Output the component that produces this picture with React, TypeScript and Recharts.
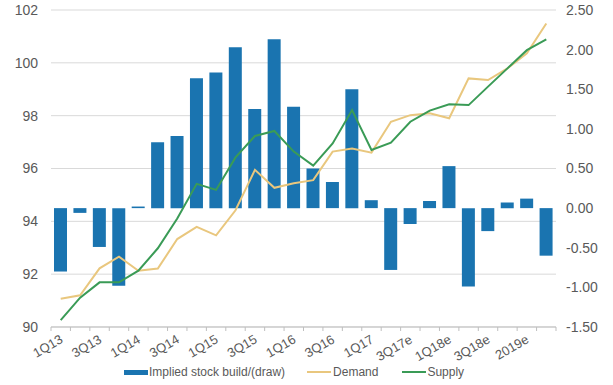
import React from 'react';
import { ComposedChart, Bar, Line, XAxis, YAxis, CartesianGrid, Legend } from 'recharts';

const categories = [
  '1Q13', '2Q13', '3Q13', '4Q13', '1Q14', '2Q14', '3Q14', '4Q14',
  '1Q15', '2Q15', '3Q15', '4Q15', '1Q16', '2Q16', '3Q16', '4Q16',
  '1Q17', '2Q17', '3Q17e', '4Q17e', '1Q18e', '2Q18e', '3Q18e', '4Q18e',
  '2019e', '2020e',
];
const stockBuild = [
  -0.8, -0.06, -0.49, -0.98, 0.02, 0.83, 0.91, 1.64,
  1.71, 2.03, 1.25, 2.13, 1.28, 0.5, 0.33, 1.5,
  0.1, -0.78, -0.2, 0.09, 0.53, -0.99, -0.29, 0.07,
  0.12, -0.6,
];
const demand = [
  91.07, 91.2, 92.22, 92.66, 92.13, 92.21, 93.33, 93.79,
  93.47, 94.42, 95.95, 95.27, 95.44, 95.56, 96.64, 96.76,
  96.6, 97.77, 98.02, 98.09, 97.9, 99.41, 99.35, 99.79,
  100.36, 101.49,
];
const supply = [
  90.26, 91.11, 91.69, 91.69, 92.13, 92.98, 94.11, 95.42,
  95.19, 96.42, 97.23, 97.42, 96.64, 96.11, 96.95, 98.21,
  96.7, 96.98, 97.77, 98.19, 98.43, 98.4, 99.1, 99.79,
  100.48, 100.89,
];
const leftTicks = [90, 92, 94, 96, 98, 100, 102];
const rightTicks = [-1.5, -1, -0.5, 0, 0.5, 1, 1.5, 2, 2.5];

const data = categories.map((c, i) => ({
  cat: c,
  build: stockBuild[i],
  demand: demand[i],
  supply: supply[i],
}));

const BAR_COLOR = '#1A74B0';
const DEMAND_COLOR = '#E9C77E';
const SUPPLY_COLOR = '#3A9B56';
const TEXT = '#595959';
const FONT = '"Liberation Sans", Arial, sans-serif';
const BAND = 505 / 26;

const XTick = (props: any) => {
  const { x, y, index, payload } = props;
  const last = index === categories.length - 1;
  const tx = x + 3;
  const ty = y + 7;
  return (
    <g>
      <line x1={x - BAND / 2} x2={x - BAND / 2} y1={y - 8} y2={y - 4} stroke="#bfbfbf" />
      {last && <line x1={x + BAND / 2} x2={x + BAND / 2} y1={y - 8} y2={y - 4} stroke="#bfbfbf" />}
      {index % 2 === 0 && (
        <text
          x={tx}
          y={ty}
          textAnchor="end"
          fill={TEXT}
          fontSize={13}
          fontFamily={FONT}
          transform={`rotate(-30 ${tx} ${ty})`}
        >
          {payload.value}
        </text>
      )}
    </g>
  );
};

const LegendContent = () => (
  <div
    style={{
      display: 'flex',
      alignItems: 'center',
      height: 20,
      paddingLeft: 124,
      fontFamily: FONT,
      fontSize: 12,
      color: TEXT,
    }}
  >
    <span style={{ display: 'inline-block', width: 24, height: 5, background: BAR_COLOR, marginRight: 1 }} />
    <span style={{ marginRight: 22 }}>Implied stock build/(draw)</span>
    <span style={{ display: 'inline-block', width: 24, height: 2, background: DEMAND_COLOR, marginRight: 2 }} />
    <span style={{ marginRight: 24 }}>Demand</span>
    <span style={{ display: 'inline-block', width: 24, height: 2, background: SUPPLY_COLOR, marginRight: 1 }} />
    <span>Supply</span>
  </div>
);

export default function App() {
  return (
    <div style={{ position: 'absolute', left: 0, top: 0, background: '#fff' }}>
      <ComposedChart
        width={613}
        height={385}
        data={data}
        margin={{ top: 10, right: 0, bottom: 3, left: 0 }}
        barCategoryGap={0}
      >
        <CartesianGrid yAxisId="left" vertical={false} stroke="#d9d9d9" />
        <XAxis
          dataKey="cat"
          interval={0}
          height={35}
          tickLine={false}
          axisLine={{ stroke: '#bfbfbf' }}
          tick={<XTick />}
        />
        <YAxis
          yAxisId="left"
          orientation="left"
          width={51}
          domain={[90, 102]}
          ticks={leftTicks}
          axisLine={false}
          tickLine={false}
          tickSize={0}
          tickMargin={13}
          tick={{ fill: TEXT, fontSize: 14, fontFamily: FONT }}
        />
        <YAxis
          yAxisId="right"
          orientation="right"
          width={57}
          domain={[-1.5, 2.5]}
          ticks={rightTicks}
          axisLine={false}
          tickLine={false}
          tickSize={0}
          tickMargin={10}
          tickFormatter={(v: number) => v.toFixed(2)}
          tick={{ fill: TEXT, fontSize: 14, fontFamily: FONT, textAnchor: 'start' }}
        />
        <Bar yAxisId="right" dataKey="build" fill={BAR_COLOR} barSize={13} isAnimationActive={false} />
        <Line
          yAxisId="left"
          type="linear"
          dataKey="demand"
          stroke={DEMAND_COLOR}
          strokeWidth={2}
          dot={false}
          isAnimationActive={false}
        />
        <Line
          yAxisId="left"
          type="linear"
          dataKey="supply"
          stroke={SUPPLY_COLOR}
          strokeWidth={2}
          dot={false}
          isAnimationActive={false}
        />
        <Legend verticalAlign="bottom" height={20} content={<LegendContent />} />
      </ComposedChart>
    </div>
  );
}
